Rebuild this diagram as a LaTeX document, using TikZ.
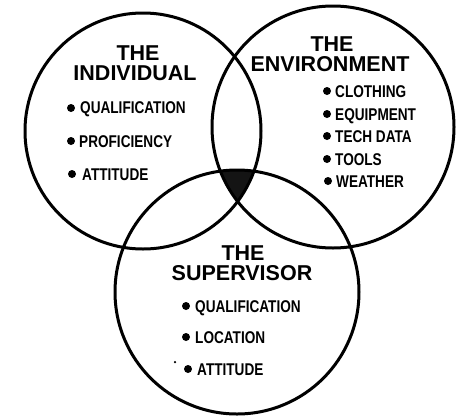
\documentclass[tikz,border=0pt]{standalone}
\usepackage{fontspec}
\setmainfont{Liberation Sans}
\newfontfamily\listfont{Liberation Sans}[FakeStretch=0.8]
\begin{document}
\begin{tikzpicture}[x=1pt,y=-1pt,
  ring/.style={circle,draw,line width=3pt,inner sep=0pt,minimum size=#1},
  heading/.style={anchor=base,inner sep=0pt,font=\bfseries\fontsize{21.5}{21.5}\selectfont},
  entry/.style={anchor=base west,inner sep=0pt,font=\listfont\bfseries\fontsize{17}{17}\selectfont},
  dot/.style={circle,fill,inner sep=0pt,minimum size=8pt},
  speck/.style={circle,fill,inner sep=0pt,minimum size=2.5pt}]
\useasboundingbox[fill=white] (0,0) rectangle (461,416);

% circle centres
\coordinate (cI) at (143,131);
\coordinate (cE) at (333,127);
\coordinate (cS) at (237,292);

% common region of all three circles
\begin{scope}
  \clip (cI) circle[radius=118];
  \clip (cE) circle[radius=121];
  \fill[black!92] (cS) circle[radius=122];
\end{scope}

% the three circles
\node[ring=236pt] (indiv) at (cI) {};
\node[ring=242pt] (envir) at (cE) {};
\node[ring=244pt] (super) at (cS) {};

% The Individual
\node[heading] (hI1) at (138,60) {THE};
\node[heading] (hI2) at (135,80) {INDIVIDUAL};
\node[dot] (bI1) at (71,108) {};
\node[entry] (tI1) at (80,113) {QUALIFICATION};
\node[dot] (bI2) at (71,141) {};
\node[entry] (tI2) at (79,147) {PROFICIENCY};
\node[dot] (bI3) at (72,174) {};
\node[entry] (tI3) at (82,180) {ATTITUDE};

% The Environment
\node[heading] (hE1) at (332,51) {THE};
\node[heading] (hE2) at (330,71) {ENVIRONMENT};
\node[dot] (bE1) at (327,91) {};
\node[entry] (tE1) at (335,97) {CLOTHING};
\node[dot] (bE2) at (327,114) {};
\node[entry] (tE2) at (335,120) {EQUIPMENT};
\node[dot] (bE3) at (327,136) {};
\node[entry] (tE3) at (335,142) {TECH DATA};
\node[dot] (bE4) at (327,159) {};
\node[entry] (tE4) at (335,165) {TOOLS};
\node[dot] (bE5) at (328,181) {};
\node[entry] (tE5) at (336,187) {WEATHER};

% The Supervisor
\node[heading] (hS1) at (243,260) {THE};
\node[heading] (hS2) at (242,280) {SUPERVISOR};
\node[dot] (bS1) at (186,306) {};
\node[entry] (tS1) at (195,312) {QUALIFICATION};
\node[dot] (bS2) at (186,337) {};
\node[entry] (tS2) at (195,343) {LOCATION};
\node[speck] (sp) at (175,362) {};
\node[dot] (bS3) at (188,369) {};
\node[entry] (tS3) at (197,375) {ATTITUDE};
\end{tikzpicture}
\end{document}
